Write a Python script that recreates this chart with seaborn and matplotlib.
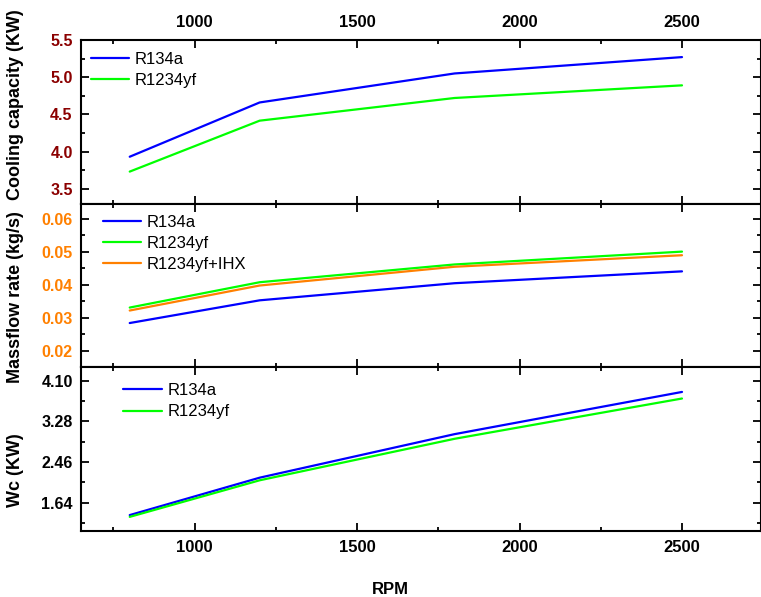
import pandas as pd
import seaborn as sns
import matplotlib.pyplot as plt
from matplotlib.ticker import MultipleLocator, FixedLocator

rpm = [800, 1200, 1800, 2500]

cool_r134a = [3.93, 4.66, 5.05, 5.27]
cool_r1234yf = [3.73, 4.415, 4.72, 4.89]

mass_r134a = [0.0284, 0.0353, 0.0405, 0.0441]
mass_r1234yf = [0.0331, 0.0408, 0.0462, 0.0501]
mass_ihx = [0.0322, 0.0398, 0.0455, 0.0490]

wc_r134a = [1.386, 2.143, 3.024, 3.878]
wc_r1234yf = [1.35, 2.09, 2.93, 3.745]

wc_ticks = [1.64, 2.46, 3.28, 4.10]
x_ticks = [1000, 1500, 2000, 2500]

colors = {'R134a': '#0000FF', 'R1234yf': '#00FF00', 'R1234yf+IHX': '#FF8000'}

# tabellen i long-form
cool_df = pd.DataFrame({'RPM': rpm * 2, 'val': cool_r134a + cool_r1234yf,
                        'fluid': ['R134a'] * 4 + ['R1234yf'] * 4})
mass_df = pd.DataFrame({'RPM': rpm * 3, 'val': mass_r134a + mass_r1234yf + mass_ihx,
                        'fluid': ['R134a'] * 4 + ['R1234yf'] * 4 + ['R1234yf+IHX'] * 4})
wc_df = pd.DataFrame({'RPM': rpm * 2, 'val': wc_r134a + wc_r1234yf,
                      'fluid': ['R134a'] * 4 + ['R1234yf'] * 4})

sns.set_style('ticks')
plt.rcParams['font.family'] = ['Liberation Sans', 'DejaVu Sans']
plt.rcParams['axes.linewidth'] = 1.5
for k in ['text.color', 'axes.labelcolor', 'axes.edgecolor', 'xtick.color', 'ytick.color']:
    plt.rcParams[k] = 'black'

W, H = 761, 597
fig = plt.figure(figsize=(W / 100, H / 100), dpi=100)
gs = fig.add_gridspec(3, 1, left=81 / W, right=0.9995, top=1 - 40 / H, bottom=1 - 530.7 / H, hspace=0)
axes = [fig.add_subplot(gs[i]) for i in range(3)]

panels = [
    (cool_df, 'Cooling capacity (KW)', (3.3, 5.5), '#8B0000', (90.7, 51.5)),
    (mass_df, 'Massflow rate (kg/s)', (0.015, 0.0647), '#FF8000', (102.7, 214.5)),
    (wc_df, 'Wc (KW)', (1.07, 4.38), 'black', (123.3, 383)),
]
label_y = [105, 297, 470]

for i, (ax, (df, ylab, ylim, tcol, leg_xy)) in enumerate(zip(axes, panels)):
    sns.lineplot(data=df, x='RPM', y='val', hue='fluid', palette=colors, ax=ax,
                 linewidth=1.6, errorbar=None)
    ax.set_xlim(650, 2742)
    ax.set_ylim(*ylim)
    ax.xaxis.set_major_locator(FixedLocator(x_ticks))
    ax.xaxis.set_minor_locator(MultipleLocator(250))
    ax.tick_params(which='both', direction='in', top=True, right=True, width=1.3)
    ax.tick_params(which='major', length=6)
    ax.tick_params(which='minor', length=3)
    ax.tick_params(axis='x', labelsize=12, pad=7,
                   labeltop=(i == 0), labelbottom=(i == 2))
    ax.tick_params(axis='y', labelsize=11.5, labelcolor=tcol, pad=6)
    ax.set_xlabel('')
    ax.set_ylabel(ylab, fontsize=13, fontweight='bold')
    ax.yaxis.set_label_coords(24 / W, 1 - label_y[i] / H, transform=fig.transFigure)
    ax.legend(loc='upper left', bbox_to_anchor=(leg_xy[0] / W, 1 - leg_xy[1] / H),
              bbox_transform=fig.transFigure, frameon=False, fontsize=12,
              borderpad=0, borderaxespad=0, handlelength=2.3, handletextpad=0.35,
              labelspacing=0.38)

axes[0].yaxis.set_major_locator(MultipleLocator(0.5))
axes[0].yaxis.set_minor_locator(MultipleLocator(0.25))
axes[0].yaxis.set_major_formatter(plt.FormatStrFormatter('%.1f'))
axes[1].yaxis.set_major_locator(MultipleLocator(0.01))
axes[1].yaxis.set_minor_locator(MultipleLocator(0.005))
axes[1].yaxis.set_major_formatter(plt.FormatStrFormatter('%.2f'))
axes[2].yaxis.set_major_locator(FixedLocator(wc_ticks))
axes[2].yaxis.set_minor_locator(FixedLocator([1.23, 2.05, 2.87, 3.69]))
axes[2].yaxis.set_major_formatter(plt.FormatStrFormatter('%.2f'))
for ax in axes:
    for lab in ax.get_xticklabels() + ax.get_yticklabels():
        lab.set_fontweight('bold')

fig.text(390 / W, 1 - 589 / H, 'RPM', ha='center', va='center', fontsize=12, fontweight='bold')

plt.savefig('out.png', dpi=100)
